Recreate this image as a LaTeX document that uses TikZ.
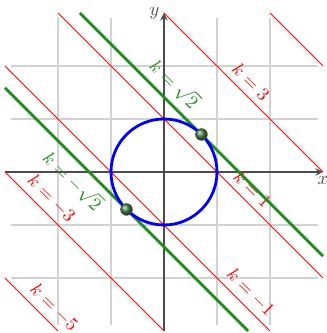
\documentclass[tikz,border=0pt]{standalone}
\usepackage{amsmath,amssymb}
\usepackage{xcolor}
\usepackage{tikz}
\usetikzlibrary{arrows,positioning,calc}

\definecolor{tangentgreen}{RGB}{34,139,34}

\begin{document}
\begin{tikzpicture}[
        gridline/.style={gray!35, line width=0.6pt},
        axis/.style={->, >=stealth, thick, black!70},
        level/.style={red, line width=0.5pt},
        tangent/.style={tangentgreen, line width=1.5pt},
        lbl/.style={sloped, font=\normalsize},
        touch/.style={circle, ball color=green!30!gray!80!black, draw=black!70, inner sep=0pt, minimum size=0.22cm}
    ]
        \useasboundingbox (-3.094,-3.038) rectangle (3.057,3.245);
        \draw[gridline] (-2.88,-2.88) grid (2.9,2.9);
        \draw[axis] (-3,0) -- (3,0) node[below, inner sep=2pt] (xl) {$x$};
        \draw[axis] (0,-3) -- (0,3) node[left, inner sep=2pt] (yl) {$y$};
        % level lines x+y=k
        \draw[level] (2,3) -- (3,2);
        \draw[level] (0,3) -- (3,0) node[lbl, above, red, pos=0.49] (k3) {$k=3$};
        \draw[level] (-2,3) -- (3,-2) node[lbl, above, red, pos=0.70] (k1) {$k=1$};
        \draw[level] (-3,2) -- (2,-3) node[lbl, above, red, pos=0.89] (km1) {$k=-1$};
        \draw[level] (-3,0) -- (0,-3) node[lbl, above, red, pos=0.23] (km3) {$k=-3$};
        \draw[level] (-3,-2) -- (-2,-3) node[lbl, above, red, pos=0.74] (km5) {$k=-5$};
        % tangent lines
        \draw[tangent] (-1.586,3) -- (3,-1.586) node[lbl, above, tangentgreen, pos=0.34] (ks) {$k=\sqrt{2}$};
        \draw[tangent] (-3,1.586) -- (1.586,-3) node[lbl, below, tangentgreen, pos=0.33] (kms) {$k=-\sqrt{2}$};
        \draw[blue, line width=1.5pt] (0,0) circle (1);
        \node[touch] (p1) at (0.7071,0.7071) {};
        \node[touch] (p2) at (-0.7071,-0.7071) {};
    \end{tikzpicture}
\end{document}
